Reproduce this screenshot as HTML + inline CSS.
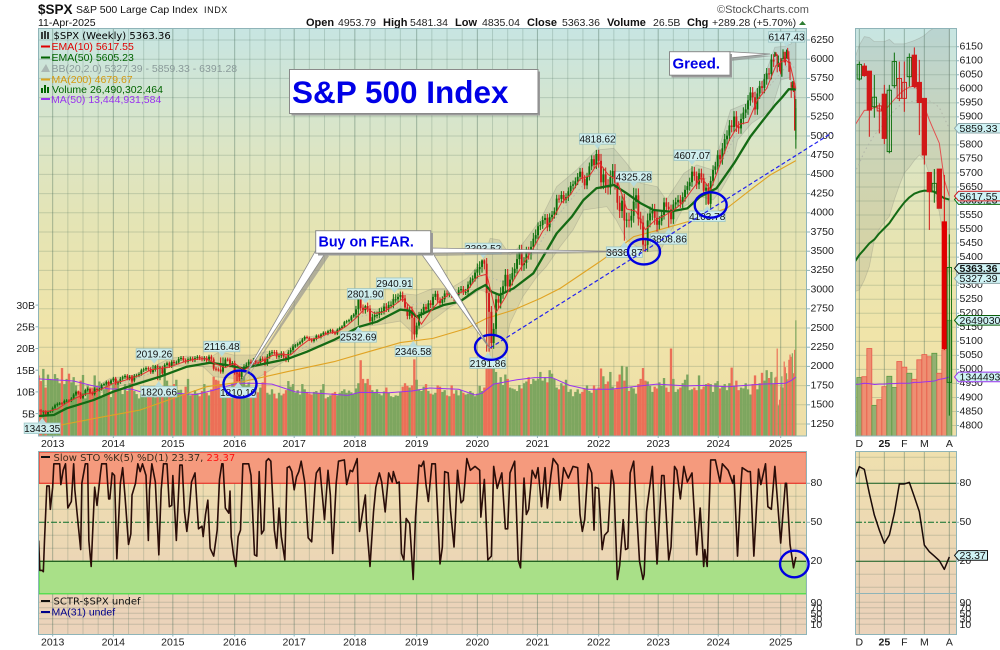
<!DOCTYPE html>
<html lang="en">
<head>
<meta charset="utf-8">
<title>S&amp;P 500 Index weekly chart</title>
<style>
html,body{margin:0;padding:0;background:#fff;width:1000px;height:650px;overflow:hidden}
svg{display:block;font-family:"Liberation Sans",Arial,sans-serif}
.wide{font-family:"DejaVu Sans","Liberation Sans",sans-serif;font-size:10px}
.leg{font-size:10.5px}
.hb{font-size:11px;font-weight:bold;fill:#111}
.hv{font-size:10.5px;fill:#222}
</style>
</head>
<body>
<svg id="chart" width="1000" height="650" viewBox="0 0 1000 650" xmlns="http://www.w3.org/2000/svg">
<defs>
<linearGradient id="priceBg" x1="0" y1="0" x2="0" y2="1">
<stop offset="0" stop-color="#c7e5e2"/><stop offset=".3" stop-color="#dce5c4"/><stop offset=".47" stop-color="#e4e4b5"/><stop offset=".74" stop-color="#f0e4a9"/><stop offset="1" stop-color="#eddea8"/>
</linearGradient>
<linearGradient id="stoBg" x1="0" y1="0" x2="0" y2="1">
<stop offset="0" stop-color="#efe0ae"/><stop offset=".78" stop-color="#ebd3b8"/><stop offset="1" stop-color="#ebd3bb"/>
</linearGradient>
<clipPath id="mainClip"><rect x="39" y="28.5" width="767.5" height="407.5"/></clipPath>
<clipPath id="stoClip"><rect x="39" y="451.5" width="767.5" height="183"/></clipPath>
<clipPath id="rightClip"><rect x="855.5" y="28.5" width="101" height="407.5"/></clipPath>
<clipPath id="rightStoClip"><rect x="855.5" y="451.5" width="101" height="183"/></clipPath>
</defs>

<g>
<text x="38" y="14" font-size="13.5" font-weight="bold" fill="#111">$SPX</text>
<text x="76" y="13" font-size="10.5" fill="#111">S&amp;P 500 Large Cap Index</text>
<text x="204" y="13" font-size="9" letter-spacing=".6" fill="#111">INDX</text>
<text x="38" y="26" font-size="10.5" fill="#111">11-Apr-2025</text>
<text class="hb" x="306" y="26">Open</text>
<text class="hv" x="338" y="26">4953.79</text>
<text class="hb" x="383" y="26">High</text>
<text class="hv" x="410" y="26">5481.34</text>
<text class="hb" x="455" y="26">Low</text>
<text class="hv" x="482" y="26">4835.04</text>
<text class="hb" x="527" y="26">Close</text>
<text class="hv" x="562" y="26">5363.36</text>
<text class="hb" x="607" y="26">Volume</text>
<text class="hv" x="653" y="26">26.5B</text>
<text class="hb" x="687" y="26">Chg</text>
<text class="hv" x="712" y="26">+289.28 (+5.70%)</text>
<polygon points="799,25 806,25 802.5,21" fill="#2e7d32"/>
<text x="717" y="13" font-size="11" fill="#555">&#169;StockCharts.com</text>
</g>

<rect x="38.5" y="28.5" width="768" height="407.5" fill="url(#priceBg)"/>
<rect x="855.5" y="28.5" width="101" height="407.5" fill="url(#priceBg)"/>
<rect x="38.5" y="451.5" width="768" height="183" fill="url(#stoBg)"/>
<rect x="855.5" y="451.5" width="101" height="183" fill="url(#stoBg)"/>

<g id="gridLayer"></g>
<g id="mainLayer" clip-path="url(#mainClip)"></g>
<g id="rightLayer" clip-path="url(#rightClip)"></g>
<g id="stoLayer" clip-path="url(#stoClip)"></g>
<g id="rightStoLayer" clip-path="url(#rightStoClip)"></g>

<rect x="38.5" y="28.5" width="768" height="407.5" fill="none" stroke="#8fb4b8"/>
<rect x="855.5" y="28.5" width="101" height="407.5" fill="none" stroke="#8fb4b8"/>
<rect x="38.5" y="451.5" width="768" height="183" fill="none" stroke="#8fb4b8"/>
<rect x="855.5" y="451.5" width="101" height="183" fill="none" stroke="#8fb4b8"/>
<line x1="855.5" y1="593.5" x2="956.5" y2="593.5" stroke="#8fb4b8"/>

<g id="axisLayer"></g>
<g id="annLayer"></g>

<g>
<g>
<path d="M42 32v7M45 31v8M48 32v7" stroke="#111" stroke-width="1.6"/>
<text class="wide" x="53.5" y="39">$SPX (Weekly) 5363.36</text>
</g>
<g>
<rect x="41" y="45.5" width="9" height="2" fill="#e00000"/>
<text class="leg" x="51.5" y="50" fill="#e00000">EMA(10) 5617.55</text>
</g>
<g>
<rect x="41" y="56.5" width="9" height="2" fill="#006400"/>
<text class="leg" x="51.5" y="61" fill="#006400">EMA(50) 5605.23</text>
</g>
<g>
<polygon points="41,72 46,64 50,72" fill="#aab8b4"/>
<text class="leg" x="51.5" y="72" fill="#8a9a9a">BB(20,2.0) 5327.39 - 5859.33 - 6391.28</text>
</g>
<g>
<rect x="41" y="78.5" width="9" height="2" fill="#daa520"/>
<text class="leg" x="51.5" y="83" fill="#d49a10">MA(200) 4679.67</text>
</g>
<g>
<path d="M42 93v-5M45 93v-8M48 93v-6" stroke="#006400" stroke-width="2"/>
<text class="leg" x="52" y="93" fill="#006400">Volume 26,490,302,464</text>
</g>
<g>
<rect x="41" y="98" width="9" height="2" fill="#9933ee"/>
<text class="leg" x="51" y="103" fill="#9933ee">MA(50) 13,444,931,584</text>
</g>
</g>

<g>
<rect x="41" y="456" width="9" height="2" fill="#111"/>
<text class="wide" x="53.5" y="461" fill="#3a2a1a">Slow STO %K(5) %D(1) 23.37, <tspan fill="#ff1010">23.37</tspan></text>
</g>
<g>
<rect x="41" y="600" width="9" height="2" fill="#111"/>
<text class="wide" x="53.5" y="604.5" fill="#111">SCTR-$SPX undef</text>
<rect x="41" y="611" width="9" height="2" fill="#00008b"/>
<text class="leg" x="51.5" y="615.5" fill="#00008b">MA(31) undef</text>
</g>

<g fill="none" stroke="#0000e0" stroke-width="2.4">
<ellipse cx="240" cy="384" rx="16.5" ry="13.5"/>
<ellipse cx="491" cy="347.3" rx="16" ry="12.5"/>
<ellipse cx="644" cy="251.7" rx="16" ry="12.7"/>
<ellipse cx="710.7" cy="205" rx="16" ry="12.7"/>
<ellipse cx="794.3" cy="564" rx="14.3" ry="13.3"/>
</g>

<g>
<polygon points="324,254 244,383 329,256" fill="#8a8a8a" opacity=".6"/>
<polygon points="426,255 492,350 434,255" fill="#8a8a8a" opacity=".6"/>
<polygon points="433,252 629,252.5 433,256" fill="#8a8a8a" opacity=".6"/>
<polygon points="316,250 241,382 326,252" fill="#fff" stroke="#8a8a8a" stroke-width=".8"/>
<polygon points="420,252 490,349 431,250" fill="#fff" stroke="#8a8a8a" stroke-width=".8"/>
<polygon points="430,248 627,251.5 430,253" fill="#fff" stroke="#8a8a8a" stroke-width=".8"/>
<rect x="318" y="233" width="115" height="22.5" fill="#9a9a9a"/>
<rect x="315.7" y="230.7" width="115" height="22.5" fill="#fff" stroke="#8a8a8a"/>
<text x="318.5" y="246.5" font-size="14.3" font-weight="bold" fill="#0000e6">Buy on FEAR.</text>
</g>

<g>
<polygon points="731,54 772,56 731,61" fill="#8a8a8a" opacity=".65"/>
<polygon points="729,51.7 770,54 729,58" fill="#fff" stroke="#8a8a8a" stroke-width=".8"/>
<rect x="671.5" y="54" width="60.5" height="23.5" fill="#9a9a9a"/>
<rect x="669.5" y="51.7" width="60.5" height="23.5" fill="#fff" stroke="#8a8a8a"/>
<text x="672.5" y="68.5" font-size="15" font-weight="bold" fill="#0000e6">Greed.</text>
</g>

<g>
<rect x="291.5" y="71.5" width="248.5" height="44" fill="#9a9a9a"/>
<rect x="289.5" y="69.5" width="248.5" height="44" fill="#fff" stroke="#8a8a8a"/>
<text x="292" y="103" font-size="31.5" font-weight="bold" fill="#0000e6">S&amp;P 500 Index</text>
</g>

<script>
/* ---------- price data, 2-week bars in index points ---------- */
const firstOpen = 1432;
const closes = [
1428,1412,1414,1364,1409,1416,
1460,1495,1513,1519,1518,1551,1556,1553,1582,1633,1667,1650,1592,1631,1692,1709,1655,1640,1710,1691,1703,1759,1770,1798,1775,1818,
1842,1782,1795,1840,1859,1878,1841,1865,1815,1878,1881,1900,1949,1962,1978,1967,1925,1955,2003,1985,1985,1906,2018,2041,2002,2058,
2044,2051,2097,2110,2079,2061,2093,2102,2081,2108,2122,2107,2092,2109,2076,2127,2092,1970,1961,1958,1931,2014,2090,2089,2012,2044,
1922,1906,1864,1948,1999,2022,2060,2035,2080,2052,2046,2100,2099,2037,2130,2175,2184,2183,2129,2139,2168,2126,2085,2182,2213,2259,
2275,2295,2316,2351,2383,2372,2349,2329,2356,2399,2381,2416,2439,2425,2459,2472,2441,2426,2477,2500,2519,2575,2588,2602,2652,2675,
2743,2873,2762,2732,2786,2752,2588,2641,2670,2670,2713,2721,2779,2754,2801,2802,2874,2874,2905,2930,2885,2767,2658,2736,2633,2416,
2531,2670,2708,2775,2743,2822,2800,2905,2945,2859,2826,2873,2950,2941,3014,2932,2888,2926,2992,3007,2970,2970,3066,3120,3145,3221,
3265,3295,3380,3337,2954,2711,2304,2488,2874,2830,2955,3044,3193,3041,3130,3215,3271,3397,3508,3319,3348,3483,3465,3557,3663,3709,
3825,3841,3906,3934,3811,3943,3974,4020,4185,4181,4232,4173,4204,4281,4352,4370,4411,4468,4535,4441,4357,4471,4605,4698,4620,4766,
4677,4397,4500,4348,4328,4463,4545,4392,4131,4023,4158,3900,3911,3899,3961,4145,4228,3924,3873,3585,3583,3901,3992,4026,3934,3844,
3895,3972,4136,4079,4045,3916,4109,4137,4169,4124,4205,4298,4348,4398,4536,4478,4369,4515,4450,4288,4327,4117,4415,4559,4604,4754,
4697,4839,4958,5005,5137,5117,5254,5123,5099,5222,5304,5346,5464,5567,5505,5346,5554,5648,5626,5738,5815,5808,5995,5969];
const yearWicks = [15,18,22,25,30,18,45,40,75,50,90,60,70,80];
/* ---------- volume in billions of shares, same 2-week bars ---------- */
const volumes = [
13.8,12.5,15.3,11,14,13,
12.8,14.1,13.2,12,15.5,11.8,13,14.2,12.2,13.4,11.5,10.2,12.6,13.9,8.5,11.5,9.8,11,13.8,10.2,12.4,9,10.6,11.8,12.2,8.8,
11.8,13,12.4,10.4,9.5,11.8,10.2,12,13.8,10.2,9.5,8.5,9.6,9.2,8.8,9.7,10.4,9.1,8.7,10.6,9.8,9.4,15,12.6,10.2,9.6,
11.8,12.8,10.4,10.5,9.6,11.2,13,9.2,9.4,10.4,9.7,9,10.2,11.8,9.8,9.2,10.6,13.5,12.8,12.6,11.8,11.2,9.7,10.6,11.2,12,
15.5,14.5,14.8,13.2,13.6,11.5,12.2,10.6,11,10.8,9.9,11,12.2,14.8,9.8,9.4,10.6,9.6,8.5,9.8,9.2,9.6,10.4,12.5,11.2,11.8,
9.8,10.4,9.4,11.8,10.6,10,9.6,9.4,10,10.2,9.7,10.5,11.8,8.5,8.8,9.2,9.7,10,9.2,9.8,10.2,10.6,9.8,10.3,9.9,9.5,
10.8,12,17.3,13,12,13,11.6,10.4,10,10.6,9.6,9.2,10.1,11,9.8,9,8.8,9.2,9.1,10,11.2,12,11.4,11,11.5,17.5,
12.8,10.6,10.2,11.2,11.8,10.2,9.6,9.4,9.8,11.5,11.2,10,10.4,9.2,9,11.5,9.6,10.4,9.2,10.4,9.8,9.4,9.6,10.2,9.8,9,
9.6,11.4,10.2,11,16,17,16.5,16,14.6,12,13.4,11.6,14,13,11,10.8,10.6,10.2,11.6,10.8,12,12.4,13.4,11.8,13,12.6,
13,14.6,12.6,13.4,12.2,15,14.2,13,11,10.6,12,11.4,12.8,10,10.6,9,10,10.6,9.6,10,10.8,11.5,10.2,9.8,11.5,10.5,
11,15.4,13.6,11.8,12.4,14.6,11.2,10.6,12.4,14,16,12.6,15.8,10.2,11.2,10.8,9.6,11.8,13,15.5,12.6,12.4,11.4,10,11.2,10.8,
12.2,11.4,13.2,11,10,20,13,10,10.6,11,12,12.8,14,10.4,10.6,11,10.4,13.8,10.6,11.2,11.8,12,11.8,10,12,12.5,
10.8,11.2,11.8,10.4,12,15.6,11.4,12.6,10.4,11,10.8,12,10.6,9.4,11.8,13.8,10.6,12,14.4,12.6,15,13.2,14.6,11.8];
/* ---------- last 19 weekly bars (week 631 to 649), used by both panels ---------- */
const recentOpen  = [6035,6081,6063,5936,5921,5981,5776,6011,5966,5966,6043,6120,6023,5966,5702,5633,5714,5526,4953.79];
const recentHigh  = [6097,6091,6063,6049,5948,6014,6014,6129,6097,6097,6126,6147.43,6103,5966,5702,5714,5714,5693,5481.34];
const recentLow   = [6029,6043,5829,5897,5841,5803,5770,6002,5956,5918,6008,6002,5835,5730,5497,5594,5574,5069,4835.04];
const recentClose = [6087,6047,5924,5970,5939,5823,5995,6097,6037,6023,6112,6008,5951,5764,5633,5663,5574,5074,5363.36];
const recentVol   = [13.3,13.5,20,6.9,8.2,11.2,13.6,11,17,15.7,14.3,12.9,17.4,18.6,18.1,18.9,14.3,19.7,26.49];
/* ---------- main-panel indicators: readings at the listed weeks ---------- */
const ema10Weeks = [0,8,16,24,32,40,48,56,64,72,80,88,96,104,112,120,128,136,144,152,160,168,176,184,192,200,208,216,224,232,240,248,256,264,272,280,288,296,304,312,320,328,336,344,352,360,368,376,384,392,400,408,416,424,432,440,448,456,464,472,480,488,496,504,512,520,528,536,544,552,560,568,576,584,592,600,608,616,624,632,640,644,648,649];
const ema10Values = [1420,1415,1445,1525,1590,1640,1665,1720,1780,1810,1850,1890,1955,1975,1990,2035,2075,2095,2100,2030,1985,2040,1950,2030,2070,2140,2160,2150,2260,2350,2370,2430,2450,2530,2630,2760,2690,2710,2790,2880,2750,2550,2720,2860,2940,2950,3000,3170,3200,2700,2900,3150,3350,3540,3760,3900,4130,4240,4440,4480,4660,4500,4420,4050,4020,3780,3900,3960,4030,4130,4300,4460,4300,4630,4950,5150,5180,5470,5620,5920,5996,5936,5675,5617.55];
const ema50Weeks = [0,13,24,47,64,81,104,127,147,161,175,195,213,230,253,275,290,310,318,324,333,347,361,375,383,388,395,407,424,444,457,467,478,493,504,516,527,541,556,567,581,596,610,621,631,637,643,649];
const ema50Values = [1354,1367,1454,1562,1671,1758,1866,1996,2048,2018,1975,2040,2096,2192,2344,2517,2582,2740,2725,2647,2712,2799,2843,2995,3060,2973,2930,3016,3212,3732,3950,4167,4319,4362,4254,4124,4037,4015,4058,4210,4319,4644,4992,5208,5400,5500,5610,5605.23];
const ma200Weeks = [19,53,87,115,144,175,213,253,275,310,338,367,384,407,430,447,464,481,495,510,530,560,590,610,627,649];
const ma200Values = [1237,1337,1432,1584,1736,1801,1931,2061,2157,2310,2365,2495,2626,2734,2886,3016,3190,3364,3515,3689,3770,3900,4060,4297,4492,4679.67];
const bbUpperWeeks = [0,24,47,61,81,101,112,127,147,155,167,184,195,210,224,241,264,276,290,310,324,338,353,367,381,387,395,404,415,430,444,461,478,493,504,516,530,538,553,564,578,581,593,607,621,631,640,645,649];
const bbUpperValues = [1432,1606,1714,1844,1888,2018,2105,2135,2118,2192,2148,2148,2192,2170,2365,2409,2517,2778,2734,2950,2930,3016,3016,3146,3385,3667,3646,3450,3602,3906,4341,4558,4818,4840,4644,4384,4341,4167,4514,4623,4558,4731,5339,5426,5729,6156,6170,6200,6391.28];
const bbLowerWeeks = [0,24,47,61,81,101,112,127,141,150,167,184,192,210,224,241,264,276,290,310,321,338,353,367,378,383,387,398,404,415,427,435,447,458,467,487,495,504,520,533,538,553,567,578,585,593,599,611,628,636,644,648,649];
const bbLowerValues = [1302,1476,1606,1714,1779,1866,1996,2018,1996,1866,1844,1823,1888,2061,2192,2278,2365,2517,2539,2590,2430,2604,2778,2886,2995,2973,2105,2127,2561,2908,3168,3298,3559,3776,4037,4080,3907,3646,3490,3515,3650,4080,4210,4167,4297,4514,4948,5165,5339,5729,5764,5450,5327.39];
const bbMidWeeks = [0,47,81,127,167,210,241,276,310,353,381,398,415,444,478,504,530,553,581,607,631,644,649];
const bbMidValues = [1367,1660,1830,2075,2010,2115,2345,2650,2770,2900,3190,3100,3255,3950,4570,4200,3900,4300,4520,5300,5734,5960,5859.33];
const volMaWeeks = [0,30,45,60,80,90,110,135,150,170,185,200,220,240,265,275,300,320,335,360,374,380,390,410,425,440,455,470,490,500,520,530,555,570,590,620,640,645,649];
const volMaValues = [13,12.5,11.5,10.7,10.6,9.8,9.8,9.4,10.4,12,12,11.8,10,9.7,9.2,9.9,9.8,10.2,10.9,10.6,9.3,9.7,11.8,12.8,13.3,13.3,11.5,10.6,10.6,10.9,11.5,11.8,11.4,11.5,11.2,11.8,12,12.6,13.44];
const trendWeeks = [386.9,679.7];
const trendValues = [2240,5039];
/* ---------- labelled highs and lows ---------- */
const annWeeks  = [3,99,103,157,171,274,280,305,321,381,385,479,502,510,540,560,573,641];
const annValues = [1343.35,2019.26,1820.66,2116.48,1810.10,2532.69,2801.90,2940.91,2346.58,3393.52,2191.86,4818.62,3636.87,4325.28,3808.86,4607.07,4103.78,6147.43];
const annKinds  = ['low','high','low','high','low','low','high','high','low','high','low','high','low','high','low','high','low','high'];
/* ---------- slow stochastic %K, main panel ---------- */
const stoWeeks = [0,1,3,4,5,7,9,10,12,13,18,19,21,23,25,28,30,31,34,36,37,40,42,43,45,47,48,50,53,54,58,60,61,63,65,67,70,72,74,77,79,80,83,85,87,89,92,94,95,97,100,103,105,107,110,112,114,115,118,121,123,125,127,129,131,134,137,140,141,143,145,147,150,153,155,157,158,160,163,164,165,167,169,171,173,175,180,182,185,187,189,191,193,195,197,199,202,204,206,208,211,213,215,217,219,221,223,225,228,231,234,237,238,241,245,248,250,252,255,257,262,264,267,269,273,275,280,281,284,287,289,292,294,297,300,303,304,307,309,311,313,315,318,321,323,326,328,330,332,334,337,340,344,346,348,351,353,356,357,359,362,364,367,370,374,378,379,382,385,388,390,393,397,400,402,404,408,411,413,416,418,420,423,426,428,431,434,436,439,441,445,447,450,454,458,462,464,466,468,471,474,476,477,480,483,485,488,491,493,496,498,501,503,505,507,510,515,518,519,521,526,528,530,534,536,540,542,545,547,550,553,556,560,564,567,570,571,573,576,580,584,586,591,595,596,599,602,603,608,610,613,617,619,623,625,628,631,636,640,641,644,647,649];
const stoValues = [36,13,13,12,36,78,78,60,77,95,95,79,90,95,61,66,95,75,47,29,80,95,95,36,16,57,77,63,88,95,95,68,68,88,86,22,80,92,70,33,41,71,80,95,89,95,86,36,75,95,81,25,75,95,95,62,63,86,36,94,94,58,43,59,81,88,45,47,39,56,67,30,24,44,83,95,95,61,57,74,39,25,16,39,44,95,95,86,25,24,89,41,44,97,99,97,44,30,61,39,21,92,93,89,75,85,89,97,81,38,35,80,88,92,52,90,71,26,80,97,98,79,90,89,99,43,71,49,16,58,77,88,81,58,88,81,89,80,81,26,21,53,49,6,54,94,93,97,79,66,95,95,18,31,89,88,59,31,49,90,65,67,99,90,93,90,54,83,21,24,93,76,88,45,45,88,97,21,15,84,56,60,90,84,92,62,92,61,86,99,94,67,92,84,93,92,56,43,52,95,88,44,77,76,29,40,43,90,80,6,17,52,29,30,88,97,20,6,10,58,93,52,18,86,86,21,31,93,90,68,93,81,88,25,61,16,29,16,98,98,81,95,90,80,86,24,80,92,89,89,24,91,79,95,62,60,93,34,80,80,33,15,23.37];
/* ---------- zoom panel indicators: one value per week from week 630 ---------- */
const zoomEma10 = [5867,5895,5923,5924,5934,5930,5919,5942,5962,5981,5996,6006,6010,5993,5936,5889,5847,5806,5675,5617.55];
const zoomEma50 = [5381,5408,5428,5449,5463,5485,5503,5521,5547,5572,5595,5613,5626,5633,5637,5636,5633,5621,5610,5605.23];
const zoomBbUpper = [6103,6156,6186,6183,6168,6168,6168,6176,6160,6160,6160,6166,6172,6180,6190,6206,6218,6260,6340,6391.28];
const zoomBbMid = [5699,5734,5776,5806,5835,5856,5877,5901,5924,5939,5948,5953,5957,5959,5960,5957,5948,5933,5895,5859.33];
const zoomBbLower = [5277,5283,5318,5366,5460,5500,5525,5545,5605,5655,5700,5720,5745,5764,5748,5695,5640,5560,5450,5327.39];
const zoomVolMa = [11.7,11.8,12,11.9,11.7,11.8,11.8,11.9,11.9,12,12,12,12.2,12.2,12.3,12.4,12.5,12.9,13.1,13.44];
const zoomSto = [82,92.8,90.7,72.3,55.6,44,33.8,40.2,56.9,79.5,79.5,80.7,69.7,58.2,32.5,27.4,24,20.5,13.8,23.37];
/* ---------- tick labels ---------- */
const priceTicks = [6250,6000,5750,5500,5250,5000,4750,4500,4250,4000,3750,3500,3250,3000,2750,2500,2250,2000,1750,1500,1250];
const volTicks = [5,10,15,20,25,30];
const stoTicks = [80,50,20];
const sctrTicks = [90,70,50,30,10];
const yearLabels = [2013,2014,2015,2016,2017,2018,2019,2020,2021,2022,2023,2024,2025];
const yearTickWeeks = [12,64,115,168,219,271,324,376,427.5,480,531,582.5,636];
const zoomPriceTicks = [6150,6100,6050,6000,5950,5900,5850,5800,5750,5700,5650,5600,5550,5500,5450,5400,5350,5300,5250,5200,5150,5100,5050,5000,4950,4900,4850,4800];
const zoomTickBars = [0,5,9,13,18];
const zoomTickLabels = ['D','25','F','M','A'];

/* ---------- axis functions ---------- */
const xW = w => 38.67 + 1.1667 * w;
const yP = v => 40 + (6250 - v) * 0.0768;
const yV = b => 435.3 - 4.34 * b;
const yS = s => 561.3 + (20 - s) * 1.3;
const yT = s => 627 - s * 0.275;
const xZ = i => 859.33 + 5 * i;
const yZ = v => 46.7 + (6150 - v) * 0.2806;
const zoomStartWeek = 631;

const SVGNS = 'http://www.w3.org/2000/svg';
const $ = id => document.getElementById(id);
function mk(tag, attrs, parent, text) {
  const el = document.createElementNS(SVGNS, tag);
  for (const k in attrs) el.setAttribute(k, attrs[k]);
  if (text !== undefined) el.textContent = text;
  parent.appendChild(el);
  return el;
}
const f = n => n.toFixed(2);
const linePts = (xs, ys) => xs.map((x, i) => f(x) + ',' + f(ys[i])).join(' ');

/* ---------- grid ---------- */
const gridLayer = $('gridLayer');
const GRID = 'rgba(70,105,85,.22)';
const GRID_YEAR = 'rgba(70,105,85,.42)';
const panels = [[28.5,436],[451.5,634.5]];
panels.forEach(p => {
  yearTickWeeks.forEach((w, idx) => {
    const gy = mk('line', {x1:f(xW(w)), x2:f(xW(w)), y1:p[0], y2:p[1], stroke:GRID_YEAR}, gridLayer);
    
    
    [13,26,39].forEach(step => {
      const wq = w + step;
      if (xW(wq) < 806) {
        const gq = mk('line', {x1:f(xW(wq)), x2:f(xW(wq)), y1:p[0], y2:p[1], stroke:GRID}, gridLayer);
        
        
      }
    });
  });
  zoomTickBars.forEach(i => {
    const gz = mk('line', {x1:f(xZ(i)), x2:f(xZ(i)), y1:p[0], y2:p[1], stroke:GRID_YEAR}, gridLayer);
    
    
  });
});
priceTicks.forEach(v => {
  const g = mk('line', {x1:39, x2:806, y1:f(yP(v)), y2:f(yP(v)), stroke:GRID}, gridLayer);
  
  
});
zoomPriceTicks.forEach(v => {
  const g = mk('line', {x1:856, x2:956, y1:f(yZ(v)), y2:f(yZ(v)), stroke:GRID}, gridLayer);
  
  
});
[100,90,70,60,40,30,10,0].forEach(s => {
  [[39,806],[856,956]].forEach(r => {
    const g = mk('line', {x1:r[0], x2:r[1], y1:f(yS(s)), y2:f(yS(s)), stroke:GRID}, gridLayer);
    
    
  });
});
sctrTicks.forEach(s => {
  [[39,806],[856,956]].forEach(r => {
    const g = mk('line', {x1:r[0], x2:r[1], y1:f(yT(s)), y2:f(yT(s)), stroke:GRID}, gridLayer);
    
    
  });
});

/* ---------- main price panel ---------- */
const mainLayer = $('mainLayer');
const bandPts = linePts(bbUpperWeeks.map(xW), bbUpperValues.map(yP)) + ' ' +
  linePts(bbLowerWeeks.map(xW).reverse(), bbLowerValues.map(yP).reverse());
const band = mk('polygon', {points:bandPts, fill:'rgba(105,115,105,.15)', stroke:'rgba(130,130,120,.3)', 'stroke-width':.8}, mainLayer);


const bbMid = mk('polyline', {points:linePts(bbMidWeeks.map(xW), bbMidValues.map(yP)), fill:'none', stroke:'#b4b8ac', 'stroke-width':1, 'stroke-dasharray':'1.5 2.5'}, mainLayer);



function yearWick(w) {
  let k = 0;
  yearTickWeeks.forEach((t, i) => { if (w >= t) k = i + 1; });
  return yearWicks[k];
}
function annExtreme(w, kind) {
  let out = null;
  annWeeks.forEach((a, i) => { if (annKinds[i] === kind && Math.abs(a - w) <= 1) out = annValues[i]; });
  return out;
}
const VOL_UP = '#7da65f', VOL_DOWN = '#ec6f57', BAR_UP = '#0b6f0b', BAR_DOWN = '#d11818';

function drawVolumeBar(w, b, up, width) {
  const vb = mk('rect', {x:f(xW(w) - width / 2), y:f(yV(b)), width:width, height:f(436 - yV(b)), fill: up ? VOL_UP : VOL_DOWN}, mainLayer);
  
  
}
closes.forEach((c, i) => drawVolumeBar(2 * i, volumes[i], c >= (i ? closes[i - 1] : firstOpen), 2.35));
recentVol.forEach((b, i) => drawVolumeBar(zoomStartWeek + i, b, recentClose[i] >= (i ? recentClose[i - 1] : closes[closes.length - 1]), 1.17));

const volMa = mk('polyline', {points:linePts(volMaWeeks.map(xW), volMaValues.map(yV)), fill:'none', stroke:'#9933ee', 'stroke-width':1}, mainLayer);


const ma200 = mk('polyline', {points:linePts(ma200Weeks.map(xW), ma200Values.map(yP)), fill:'none', stroke:'#e0a324', 'stroke-width':1.1}, mainLayer);



function drawCandle(w, o, h, l, c, up, width) {
  const color = up ? BAR_UP : BAR_DOWN;
  const wick = mk('line', {x1:f(xW(w)), x2:f(xW(w)), y1:f(yP(h)), y2:f(yP(l)), stroke:color, 'stroke-width':1}, mainLayer);
  
  
  const top = Math.min(yP(o), yP(c));
  const body = mk('rect', {x:f(xW(w) - width / 2), y:f(top), width:width, height:f(Math.max(1, Math.abs(yP(o) - yP(c)))), fill:color}, mainLayer);
  
  
}
closes.forEach((c, i) => {
  const w = 2 * i;
  const o = i ? closes[i - 1] : firstOpen;
  const wickPts = yearWick(w);
  const hi = annExtreme(w, 'high');
  const lo = annExtreme(w, 'low');
  drawCandle(w, o, hi !== null ? hi : Math.max(o, c) + wickPts, lo !== null ? lo : Math.min(o, c) - wickPts, c, c >= o, 1.9);
});
recentClose.forEach((c, i) => {
  const prev = i ? recentClose[i - 1] : closes[closes.length - 1];
  drawCandle(zoomStartWeek + i, recentOpen[i], recentHigh[i], recentLow[i], c, c >= prev, 1.1);
});

const ema50 = mk('polyline', {points:linePts(ema50Weeks.map(xW), ema50Values.map(yP)), fill:'none', stroke:'#146a14', 'stroke-width':2.3, 'stroke-linejoin':'round'}, mainLayer);


const ema10 = mk('polyline', {points:linePts(ema10Weeks.map(xW), ema10Values.map(yP)), fill:'none', stroke:'#e23030', 'stroke-width':1}, mainLayer);



/* ---------- annotations ---------- */
const annLayer = $('annLayer');
annWeeks.forEach((w, i) => {
  const x = xW(w), y = yP(annValues[i]);
  const dir = annKinds[i] === 'high' ? -1 : 1;
  const cy = y + dir * 11.2;
  const box = mk('rect', {x:f(x - 18), y:f(cy - 5), width:36, height:10.5, fill:'#cfeeee', stroke:'#9cc4c4', 'stroke-width':.8}, annLayer);
  
  
  const tip = mk('polygon', {points:f(x - 4) + ',' + f(cy - dir * 5) + ' ' + f(x + 4) + ',' + f(cy - dir * 5) + ' ' + f(x) + ',' + f(y + dir), fill:'#b8dcdc'}, annLayer);
  
  
  const t = mk('text', {x:f(x), y:f(cy + 3.9), 'text-anchor':'middle', 'font-size':10, fill:'#111'}, annLayer, annValues[i].toFixed(2));
  
  
});
const trend = mk('line', {x1:f(xW(trendWeeks[0])), y1:f(yP(trendValues[0])), x2:f(xW(trendWeeks[1])), y2:f(yP(trendValues[1])), stroke:'#2222ee', 'stroke-width':1.2, 'stroke-dasharray':'4 2.5'}, annLayer);



/* ---------- zoom price panel ---------- */
const rightLayer = $('rightLayer');
const zoomIdx = zoomBbUpper.map((_, i) => i - 1);
const zBand = mk('polygon', {points:linePts(zoomIdx.map(xZ), zoomBbUpper.map(yZ)) + ' ' + linePts(zoomIdx.map(xZ).reverse(), zoomBbLower.map(yZ).reverse()), fill:'rgba(105,115,105,.14)', stroke:'rgba(130,130,120,.3)', 'stroke-width':.8}, rightLayer);


const zMid = mk('polyline', {points:linePts(zoomIdx.map(xZ), zoomBbMid.map(yZ)), fill:'none', stroke:'#b0b4a8', 'stroke-width':1, 'stroke-dasharray':'1.5 3'}, rightLayer);


recentVol.forEach((b, i) => {
  const up = recentClose[i] >= (i ? recentClose[i - 1] : closes[closes.length - 1]);
  const vb = mk('rect', {x:f(xZ(i) - 2.5), y:f(yV(b)), width:5, height:f(436 - yV(b)), fill: up ? '#93b072' : '#ee8f72', stroke: up ? '#5a9a40' : '#e85a4a', 'stroke-width':.8}, rightLayer);
  
  
});
const zVolMa = mk('polyline', {points:linePts(zoomIdx.map(xZ), zoomVolMa.map(yV)), fill:'none', stroke:'#9933ee', 'stroke-width':1}, rightLayer);


const zEma50 = mk('polyline', {points:linePts(zoomIdx.map(xZ), zoomEma50.map(yZ)), fill:'none', stroke:'#146a14', 'stroke-width':2, 'stroke-linejoin':'round'}, rightLayer);


const zEma10 = mk('polyline', {points:linePts(zoomIdx.map(xZ), zoomEma10.map(yZ)), fill:'none', stroke:'#e25050', 'stroke-width':1}, rightLayer);


recentClose.forEach((c, i) => {
  const prev = i ? recentClose[i - 1] : closes[closes.length - 1];
  const o = recentOpen[i];
  const color = c >= prev ? '#0b6f0b' : (i === 17 ? '#e00000' : BAR_DOWN);
  const filled = c < o;
  const wick = mk('line', {x1:f(xZ(i)), x2:f(xZ(i)), y1:f(yZ(recentHigh[i])), y2:f(yZ(recentLow[i])), stroke:color, 'stroke-width':1}, rightLayer);
  
  
  const body = mk('rect', {x:f(xZ(i) - 2.2), y:f(Math.min(yZ(o), yZ(c))), width:4.4, height:f(Math.abs(yZ(o) - yZ(c))), fill: filled ? color : 'none', stroke:color, 'stroke-width':.9}, rightLayer);
  
  
});

/* ---------- stochastic, main panel ---------- */
const stoLayer = $('stoLayer');
const obBand = mk('rect', {x:39, y:452, width:767.5, height:f(yS(80) - 452), fill:'#f59a7d', stroke:'#e6352a', 'stroke-width':1.2}, stoLayer);


const osBand = mk('rect', {x:39, y:f(yS(20)), width:767.5, height:f(593.8 - yS(20)), fill:'#a9e088', stroke:'#44dd44', 'stroke-width':1.2}, stoLayer);


const midDash = mk('line', {x1:39, x2:806.5, y1:f(yS(50)), y2:f(yS(50)), stroke:'#0b6f2b', 'stroke-width':1, 'stroke-dasharray':'6 2 2 2'}, stoLayer);


const line20 = mk('line', {x1:39, x2:806.5, y1:f(yS(20)), y2:f(yS(20)), stroke:'#123a12', 'stroke-width':1}, stoLayer);


const stoLine = mk('polyline', {points:linePts(stoWeeks.map(xW), stoValues.map(yS)), fill:'none', stroke:'#2a0d08', 'stroke-width':1.6, 'stroke-linejoin':'round'}, stoLayer);



/* ---------- stochastic, zoom panel ---------- */
const rightStoLayer = $('rightStoLayer');
const zStoIdx = zoomSto.map((_, i) => i - 1);
[80,20].forEach(s => {
  const l = mk('line', {x1:856, x2:956, y1:f(yS(s)), y2:f(yS(s)), stroke:'#0f5a1f', 'stroke-width':1}, rightStoLayer);
  
  
});
const zDash = mk('line', {x1:856, x2:956, y1:f(yS(50)), y2:f(yS(50)), stroke:'#0b6f2b', 'stroke-width':1, 'stroke-dasharray':'6 2 2 2'}, rightStoLayer);


const zSto = mk('polyline', {points:linePts(zStoIdx.map(xZ), zoomSto.map(yS)), fill:'none', stroke:'#1a0a08', 'stroke-width':1.5, 'stroke-linejoin':'round'}, rightStoLayer);



/* ---------- axis labels ---------- */
const axisLayer = $('axisLayer');
const TICK = '#8fb4b8';
function axisText(x, y, str, anchor, name, bold) {
  const t = mk('text', {x:x, y:f(y), 'text-anchor':anchor, 'font-size':10.5, fill:'#1c1c1c', 'font-weight':bold ? 'bold' : 'normal'}, axisLayer, str);
  
  
}
function axisTick(x1, y1, x2, y2) {
  const k = mk('line', {x1:f(x1), y1:f(y1), x2:f(x2), y2:f(y2), stroke:TICK}, axisLayer);
  
  
}
priceTicks.forEach(v => {
  axisTick(806.5, yP(v), 810, yP(v));
  axisText(810.5, yP(v) + 2.8, String(v), 'start', 'price-axis-label');
});
volTicks.forEach(b => {
  axisTick(35.5, yV(b), 38.5, yV(b));
  axisText(35, yV(b) + 3.7, b + 'B', 'end', 'volume-axis-label');
});
[443.5 + 3.7, 641.7 + 3.7].forEach(by => {
  yearLabels.forEach((yr, i) => {
    const x = xW(yearTickWeeks[i]);
    axisText(x, by, String(yr), 'middle', 'year-axis-label');
  });
  zoomTickLabels.forEach((lab, i) => {
    axisText(xZ(zoomTickBars[i]), by, lab, 'middle', 'zoom-date-axis-label', lab === '25');
  });
});
yearTickWeeks.forEach(w => {
  axisTick(xW(w), 436, xW(w), 438);
  axisTick(xW(w), 634.5, xW(w), 636.5);
});
stoTicks.forEach(s => {
  axisTick(806.5, yS(s), 810, yS(s));
  axisText(810.5, yS(s) + 2.8, String(s), 'start', 'stochastic-axis-label');
  axisTick(956.5, yS(s), 959, yS(s));
  axisText(959.5, yS(s) + 2.8, String(s), 'start', 'zoom-stochastic-axis-label');
});
sctrTicks.forEach(s => {
  axisText(810.5, yT(s) + 3.7, String(s), 'start', 'sctr-axis-label');
  axisText(959.5, yT(s) + 3.7, String(s), 'start', 'zoom-sctr-axis-label');
});
zoomPriceTicks.forEach(v => {
  axisTick(956.5, yZ(v), 959, yZ(v));
  axisText(959.5, yZ(v) + 2.8, String(v), 'start', 'zoom-price-axis-label');
});

/* ---------- value tags at the right edge ---------- */
const tagTexts = ['5605.23','5859.33','5617.55','5327.39','5363.36','2649030','1344493','23.37'];
const tagLevels = [yZ(5605.23), yZ(5859.33), yZ(5617.55), yZ(5327.39) + 1, yZ(5363.36) + 1, yV(26.49), yV(13.44), yS(23.37) - 1.5];
const tagBorders = ['#0b6f0b','#8fa8aa','#d01818','#8fa8aa','#111','#0b5f0b','#9933ee','#111'];
const tagBold = [false,false,false,false,true,false,false,false];
const tagWidths = [42,42,42,42,42,42,42,29];
tagTexts.forEach((s, i) => {
  const cy = tagLevels[i];
  const w = tagWidths[i];
  const shape = mk('polygon', {points:'954.5,' + f(cy) + ' 958.5,' + f(cy - 4.8) + ' ' + (958.5 + w) + ',' + f(cy - 4.8) + ' ' + (958.5 + w) + ',' + f(cy + 4.8) + ' 958.5,' + f(cy + 4.8), fill:'#cff3f5', stroke:tagBorders[i], 'stroke-width':1}, axisLayer);
  
  
  const t = mk('text', {x:959.5, y:f(cy + 3.7), 'font-size':10.5, fill:'#111', 'font-weight':tagBold[i] ? 'bold' : 'normal'}, axisLayer, s);
  
  
});
</script>
</svg>
</body>
</html>
